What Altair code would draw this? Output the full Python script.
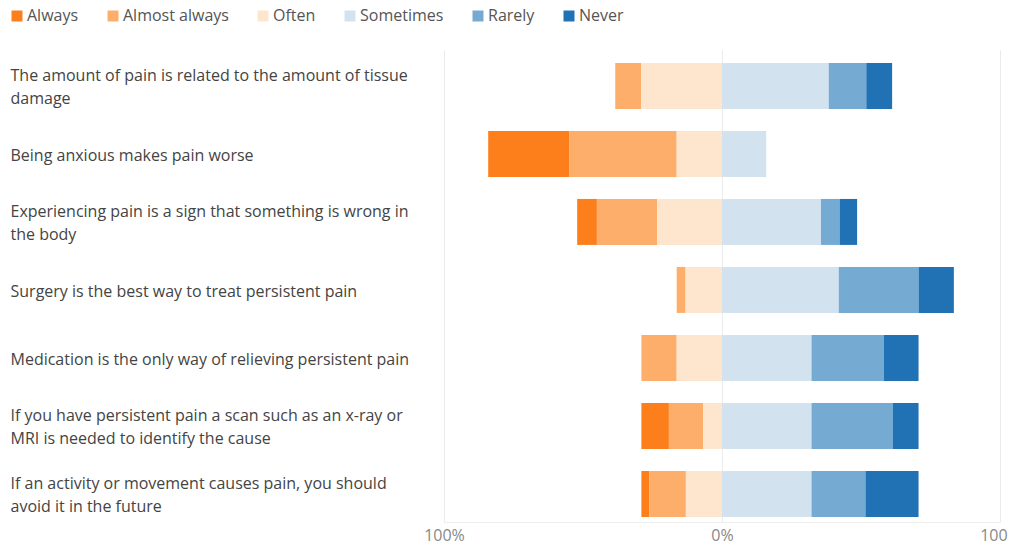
import altair as alt
import pandas as pd

statements = [
    "The amount of pain is related to the amount of tissue\ndamage",
    "Being anxious makes pain worse",
    "Experiencing pain is a sign that something is wrong in\nthe body",
    "Surgery is the best way to treat persistent pain",
    "Medication is the only way of relieving persistent pain",
    "If you have persistent pain a scan such as an x-ray or\nMRI is needed to identify the cause",
    "If an activity or movement causes pain, you should\navoid it in the future",
]
responses = ["Always", "Almost always", "Often", "Sometimes", "Rarely", "Never"]
colors = ["#fd7f1c", "#fdae6b", "#fee6ce", "#d3e2ef", "#75aad3", "#2171b5"]

always        = [0.0, 29.1, 7.1, 0.0, 0.0, 9.9, 2.9]
almost_always = [9.3, 38.7, 21.7, 3.2, 12.7, 12.3, 13.1]
often         = [29.1, 16.3, 23.3, 13.1, 16.3, 6.8, 13.0]
sometimes     = [38.4, 15.9, 35.6, 42.0, 32.2, 32.2, 32.2]
rarely        = [13.5, 0.0, 6.7, 28.7, 26.0, 29.3, 19.4]
never         = [9.3, 0.0, 6.3, 12.7, 12.5, 9.2, 19.1]

series = [always, almost_always, often, sometimes, rarely, never]
stack_rank = [2, 1, 0, 3, 4, 5]

rows = []
for r, vals, rank in zip(responses, series, stack_rank):
    for s, v in zip(statements, vals):
        rows.append({"statement": s, "response": r, "pct": v, "rank": rank})
df = pd.DataFrame(rows)

FONT = "Open Sans"

chart = (
    alt.Chart(df)
    .transform_calculate(
        signed="indexof(['Always','Almost always','Often'], datum.response) >= 0 ? -datum.pct : datum.pct"
    )
    .mark_bar()
    .encode(
        y=alt.Y(
            "statement:N",
            sort=statements,
            title=None,
            scale=alt.Scale(paddingInner=0.324, paddingOuter=0.132, align=0.72),
            axis=alt.Axis(
                labelAlign="left",
                labelBaseline={
                    "condition": {"test": "indexof(datum.value, '\\n') >= 0", "value": "line-bottom"},
                    "value": "middle",
                },
                labelPadding=434,
                labelOffset=2,
                labelLimit=440,
                labelExpr="split(datum.label, '\\n')",
                labelLineHeight=23,
                labelFontSize=16,
                labelColor="#444",
                labelFont=FONT,
                ticks=False,
                tickSize=0,
                domain=False,
                grid=False,
            ),
        ),
        x=alt.X(
            "signed:Q",
            stack="zero",
            title=None,
            scale=alt.Scale(domain=[-100, 100], nice=False),
            axis=alt.Axis(
                values=[-100, 0, 100],
                labelExpr="abs(datum.value) + '%'",
                labelFontSize=16,
                labelColor="#888",
                labelFont=FONT,
                labelFlush=False,
                labelPadding=5,
                ticks=False,
                tickSize=0,
                grid=True,
                gridColor="#ebebeb",
                domainColor="#eeeeee",
            ),
        ),
        color=alt.Color(
            "response:N",
            sort=responses,
            scale=alt.Scale(domain=responses, range=colors),
            legend=alt.Legend(
                title=None,
                orient="none",
                direction="horizontal",
                legendX=-435,
                legendY=-42,
                symbolType="square",
                symbolSize=121,
                symbolStrokeWidth=0,
                labelFontSize=16,
                labelColor="#555",
                labelFont=FONT,
                labelOffset=2,
                columnPadding=26,
            ),
        ),
        order=alt.Order("rank:Q"),
    )
    .properties(
        width=556,
        height=472,
        autosize=alt.AutoSizeParams(type="none"),
        padding={"left": 436, "top": 42, "right": 8, "bottom": 22},
    )
    .configure_view(stroke=None)
)

chart.save("out.html", embed_options={"renderer": "svg", "actions": False})
